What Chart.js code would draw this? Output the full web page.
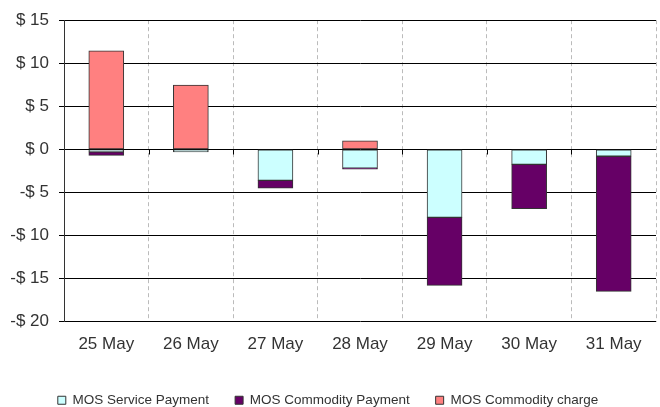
<!DOCTYPE html>
<html>
<head>
<meta charset="utf-8">
<script src="https://cdn.jsdelivr.net/npm/chart.js@4"></script>
<style>
  html, body { margin: 0; padding: 0; background: #fff; }
  #wrap { width: 660px; height: 407px; }
</style>
</head>
<body>
<div id="wrap"><canvas id="c" width="660" height="407"></canvas></div>
<script>
const categories = ['25 May', '26 May', '27 May', '28 May', '29 May', '30 May', '31 May'];
const serviceSeries = [-0.3, -0.3, -3.6, -2.2, -7.9, -1.75, -0.8];
const commodityPaymentSeries = [-0.4, null, -0.9, -0.1, -7.9, -5.15, -15.7];
const commodityChargeSeries = [11.45, 7.45, null, 1.0, null, null, null];
const yMin = -20, yMax = 15, yStep = 5;

function fmtMoney(v) {
  return v < 0 ? '-$ ' + Math.abs(v) : '$ ' + v;
}

const zeroTicks = {
  id: 'zeroTicks',
  afterDatasetsDraw(chart) {
    const x = chart.scales.x, y = chart.scales.y;
    const ctx = chart.ctx;
    const y0 = Math.round(y.getPixelForValue(0)) + 0.5;
    ctx.save();
    ctx.strokeStyle = '#000';
    ctx.lineWidth = 1;
    ctx.beginPath();
    for (let i = 1; i < categories.length; i++) {
      const px = Math.round((x.getPixelForValue(i - 1) + x.getPixelForValue(i)) / 2) + 0.5;
      ctx.moveTo(px, y0);
      ctx.lineTo(px, y0 + 5);
    }
    ctx.stroke();
    ctx.restore();
  }
};

new Chart(document.getElementById('c'), {
  type: 'bar',
  data: {
    labels: categories,
    datasets: [
      { label: 'MOS Service Payment', data: serviceSeries, backgroundColor: '#CCFFFF' },
      { label: 'MOS Commodity Payment', data: commodityPaymentSeries, backgroundColor: '#660066' },
      { label: 'MOS Commodity charge', data: commodityChargeSeries, backgroundColor: '#FF8080' }
    ]
  },
  options: {
    responsive: false,
    animation: false,
    devicePixelRatio: 1,
    layout: { padding: { top: 12, right: 4, left: 0, bottom: -10 } },
    datasets: {
      bar: {
        borderColor: '#333',
        borderWidth: 1,
        borderSkipped: false,
        barThickness: 35
      }
    },
    scales: {
      x: {
        stacked: true,
        grid: { color: '#bbbbbb', drawTicks: false, offset: true },
        border: { display: false, dash: [4, 3] },
        ticks: { color: '#333', font: { family: 'Liberation Sans, Arial, sans-serif', size: 17 }, padding: 13 },
        afterFit(s) { s.height = 46; }
      },
      y: {
        stacked: true,
        min: yMin, max: yMax,
        grid: { color: '#000', tickLength: 5 },
        border: { display: true, color: '#333', width: 1 },
        ticks: {
          stepSize: yStep,
          color: '#333',
          font: { family: 'Liberation Sans, Arial, sans-serif', size: 17 },
          padding: 10,
          callback: (v) => fmtMoney(v)
        },
        afterFit(s) { s.width = 64; }
      }
    },
    plugins: {
      legend: {
        position: 'bottom',
        labels: {
          boxWidth: 8, boxHeight: 8,
          color: '#333',
          padding: 26,
          font: { family: 'Liberation Sans, Arial, sans-serif', size: 13.5 }
        }
      },
      tooltip: { enabled: false }
    }
  },
  plugins: [zeroTicks]
});
</script>
</body>
</html>
